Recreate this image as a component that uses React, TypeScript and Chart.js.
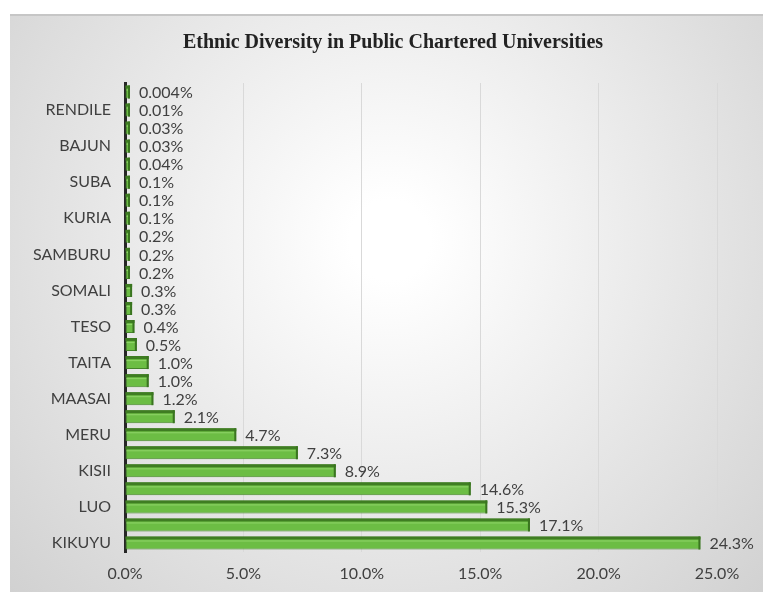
import React, { useEffect, useRef } from "react";
import { Chart, registerables } from "chart.js";
Chart.register(...registerables);

const title = "Ethnic Diversity in Public Chartered Universities";
const categories = [
  "EL MOLO", "RENDILE", "ORMA", "BAJUN", "POKOMO", "SUBA", "MBEERE", "KURIA",
  "POKOT", "SAMBURU", "BORANA", "SOMALI", "TURKANA", "TESO", "EMBU", "TAITA",
  "MIJIKENDA", "MAASAI", "KALENJIN-SUB", "MERU", "KAMBA", "KISII", "KALENJIN",
  "LUO", "LUHYA", "KIKUYU",
];
const values = [
  0.004, 0.01, 0.03, 0.03, 0.04, 0.1, 0.1, 0.1, 0.2, 0.2, 0.2, 0.3, 0.3, 0.4,
  0.5, 1.0, 1.0, 1.2, 2.1, 4.7, 7.3, 8.9, 14.6, 15.3, 17.1, 24.3,
];
const xTicks = [0, 5, 10, 15, 20, 25];

function fmt(v: number): string {
  if (v < 0.01) return v.toFixed(3) + "%";
  if (v < 0.1) return v.toFixed(2) + "%";
  return v.toFixed(1) + "%";
}

const FONT = "Lato, 'Open Sans', sans-serif";

export default function App() {
  const ref = useRef<HTMLCanvasElement>(null);
  useEffect(() => {
    if (!ref.current) return;
    const bgPlugin = {
      id: "bg",
      beforeDraw(chart: any) {
        const { ctx, width, height } = chart;
        ctx.save();
        ctx.fillStyle = "#ffffff";
        ctx.fillRect(0, 0, width, height);
        const g = ctx.createRadialGradient(390, 240, 40, 390, 240, 540);
        g.addColorStop(0, "#ffffff");
        g.addColorStop(1, "#cfcfcf");
        ctx.fillStyle = g;
        ctx.fillRect(10, 14, width - 10, height - 16);
        ctx.strokeStyle = "#c6c6c6";
        ctx.lineWidth = 2;
        ctx.beginPath();
        ctx.moveTo(10, 15);
        ctx.lineTo(width, 15);
        ctx.stroke();
        ctx.fillStyle = "#222222";
        ctx.font = "bold 20px 'Liberation Serif', 'Times New Roman', serif";
        ctx.textAlign = "center";
        ctx.textBaseline = "middle";
        ctx.fillText(title, 393, 43);
        ctx.restore();
      },
    };
    const barPlugin = {
      id: "bar3d",
      afterDatasetsDraw(chart: any) {
        const { ctx } = chart;
        const meta = chart.getDatasetMeta(0);
        ctx.save();
        meta.data.forEach((el: any, i: number) => {
          const x = el.x;
          const base = el.base;
          const h = el.height;
          const top = el.y - h / 2;
          ctx.fillStyle = "#3f7d22";
          ctx.fillRect(base, top, x - base, 3);
          ctx.fillStyle = "#8fd468";
          ctx.fillRect(base + 1, top + 4, Math.max(0, x - base - 3), 1);
          ctx.fillStyle = "#3a7520";
          ctx.fillRect(x - 2, top, 2, h);
          ctx.fillStyle = "#404040";
          ctx.font = "16px " + FONT;
          ctx.textAlign = "left";
          ctx.textBaseline = "middle";
          ctx.fillText(fmt(values[i]), x + 9, el.y + 1);
        });
        ctx.restore();
      },
    };
    const chart = new Chart(ref.current, {
      type: "bar",
      data: {
        labels: categories,
        datasets: [
          {
            data: values,
            backgroundColor: "#6cbd44",
            borderColor: "#45852a",
            borderWidth: 1,
            borderSkipped: false,
            barPercentage: 0.72,
            categoryPercentage: 1,
            minBarLength: 5,
          },
        ],
      },
      options: {
        indexAxis: "y",
        animation: false,
        responsive: false,
        layout: { padding: { left: 10, right: 46, top: 83, bottom: 0 } },
        plugins: {
          legend: { display: false },
          title: { display: false },
          tooltip: { enabled: false },
        },
        scales: {
          x: {
            min: 0,
            max: 25,
            afterFit(scale: any) {
              scale.height = 42;
            },
            afterBuildTicks(scale: any) {
              scale.ticks = xTicks.map((v) => ({ value: v }));
            },
            ticks: {
              callback: (v: any) => Number(v).toFixed(1) + "%",
              color: "#404040",
              font: { family: FONT, size: 16 },
              padding: 12,
            },
            grid: {
              color: (c: any) => (c.tick && c.tick.value === 0 ? "rgba(0,0,0,0)" : "#d9d9d9"),
              drawTicks: false,
            },
            border: { display: false },
          },
          y: {
            afterFit(scale: any) {
              scale.width = 115;
            },
            ticks: {
              autoSkip: false,
              callback: (_v: any, i: number) => (i % 2 === 1 ? categories[i] : ""),
              color: "#404040",
              font: { family: FONT, size: 16 },
              padding: 14,
            },
            grid: { display: false, drawTicks: false },
            border: { display: true, color: "#262626", width: 3 },
          },
        },
      } as any,
      plugins: [bgPlugin, barPlugin],
    });
    return () => chart.destroy();
  }, []);
  return (
    <div style={{ position: "absolute", left: 0, top: 0, width: 763, height: 594 }}>
      <canvas ref={ref} width={763} height={594} />
    </div>
  );
}
